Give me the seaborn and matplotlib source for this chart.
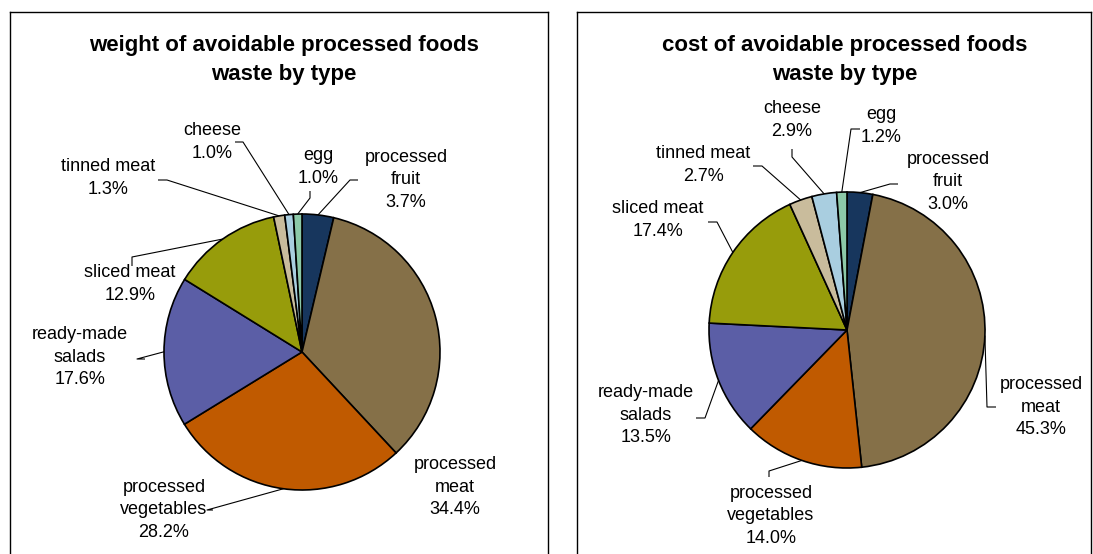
import numpy as np
import matplotlib
matplotlib.use("Agg")
import matplotlib.pyplot as plt
import seaborn as sns

# categories, clockwise from 12 o'clock
categories = ["processed\nfruit", "processed\nmeat", "processed\nvegetables",
              "ready-made\nsalads", "sliced meat", "tinned meat", "cheese", "egg"]
weight_pct = [3.7, 34.4, 28.2, 17.6, 12.9, 1.3, 1.0, 1.0]
cost_pct = [3.0, 45.3, 14.0, 13.5, 17.4, 2.7, 2.9, 1.2]

colors = ["#17365D", "#857048", "#C05A00", "#5B5EA6",
          "#979C0B", "#C9BC9C", "#A9CEE0", "#8CC9A8"]

W, H = 1093, 554

# label centres and leader stubs (pixel coords of the picture)
weight_layout = {
    "box": (10, 12, 548, 580), "center": (302, 352), "r": 138,
    "title_x": 284,
    "labels": [(406, 180), (455, 487), (164, 510), (80, 357),
               (130, 284), (108, 178), (212, 142), (318, 167)],
    "stubs": [[(358, 180), (350, 180)], None, [(213, 510), (207, 510)],
              [(145, 359), (137, 359)], [(132, 266), (132, 257)],
              [(158, 180), (167, 180)], [(235, 142), (243, 142)],
              [(310, 191), (310, 198)]],
}
cost_layout = {
    "box": (577, 12, 1091, 580), "center": (847, 330), "r": 138,
    "title_x": 845,
    "labels": [(948, 182), (1041, 407), (771, 516), (646, 415),
               (658, 220), (703, 165), (792, 120), (881, 126)],
    "stubs": [[(898, 184), (890, 184)], [(996, 407), (987, 407)],
              [(769, 477), (769, 471)], [(696, 418), (705, 418)],
              [(708, 222), (717, 222)], [(753, 166), (762, 166)],
              [(792, 149), (792, 157)], [(860, 129), (851, 129)]],
}

sns.set_theme(style="white")
plt.rcParams["font.family"] = ["Liberation Sans", "DejaVu Sans"]

fig = plt.figure(figsize=(W / 100, H / 100), dpi=100)


def draw_panel(values, title, lay):
    x0, y0, x1, y1 = lay["box"]
    ax = fig.add_axes([x0 / W, (H - y1) / H, (x1 - x0) / W, (y1 - y0) / H])
    cx, cy = lay["center"]
    r = lay["r"]
    wedges, _ = ax.pie(values, colors=sns.color_palette(colors), startangle=90,
                       counterclock=False, center=(cx, H - cy), radius=r,
                       wedgeprops=dict(edgecolor="black", linewidth=1.2))
    ax.set_xlim(x0, x1)
    ax.set_ylim(H - y1, H - y0)
    ax.set_aspect("auto")
    ax.set_frame_on(True)
    ax.set_xticks([])
    ax.set_yticks([])
    for s in ax.spines.values():
        s.set_visible(True)
        s.set_color("black")
        s.set_linewidth(1.0)

    for w, name, v, pos, stub in zip(wedges, categories, values,
                                      lay["labels"], lay["stubs"]):
        ax.text(pos[0], H - pos[1], f"{name}\n{v:.1f}%", ha="center",
                va="center", fontsize=13, linespacing=1.45, color="black")
        if stub is None:
            continue
        mid = np.deg2rad((w.theta1 + w.theta2) / 2)
        ex, ey = cx + r * np.cos(mid), (H - cy) + r * np.sin(mid)
        xs = [stub[0][0], stub[1][0], ex]
        ys = [H - stub[0][1], H - stub[1][1], ey]
        ax.plot(xs, ys, color="black", lw=0.8, solid_capstyle="butt")

    ax.text(lay["title_x"], H - 60, title, ha="center", va="center",
            fontsize=16, fontweight="bold", linespacing=1.45, color="black")


draw_panel(weight_pct, "weight of avoidable processed foods\nwaste by type", weight_layout)
draw_panel(cost_pct, "cost of avoidable processed foods\nwaste by type", cost_layout)

fig.savefig("out.png", dpi=100)
